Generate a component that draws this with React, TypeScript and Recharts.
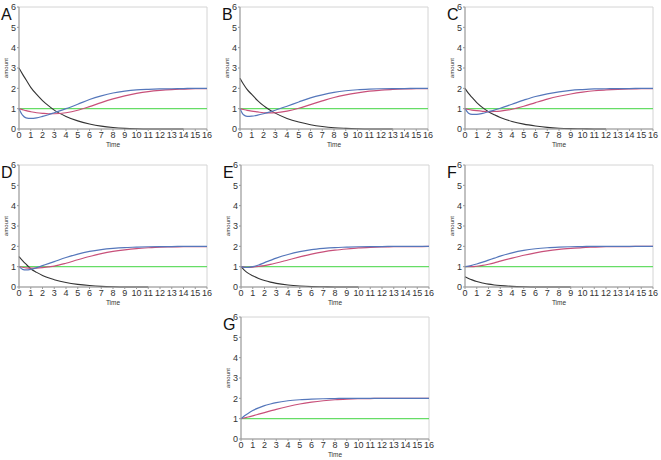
import React from "react";
import { LineChart, Line, XAxis, YAxis, ReferenceArea } from "recharts";

// sample times shared by every panel
const times = [0, 0.3, 0.6, 1, 1.5, 2, 2.5, 3, 4, 5, 6, 7, 8, 9, 10, 11, 12, 13, 14, 15, 16];
const xTicks = [0, 1, 2, 3, 4, 5, 6, 7, 8, 9, 10, 11, 12, 13, 14, 15, 16];
const yTicks = [0, 1, 2, 3, 4, 5, 6];

const greenLevel = [1, 1, 1, 1, 1, 1, 1, 1, 1, 1, 1, 1, 1, 1, 1, 1, 1, 1, 1, 1, 1];

const blackA = [3.0, 2.7, 2.42, 2.05, 1.7, 1.4, 1.15, 0.93, 0.62, 0.4, 0.25, 0.14, 0.07, 0.03, 0.01, 0, 0, 0, 0];
const blueA = [1.0, 0.68, 0.55, 0.52, 0.55, 0.62, 0.7, 0.8, 1.0, 1.22, 1.45, 1.63, 1.77, 1.86, 1.92, 1.95, 1.97, 1.98, 1.99, 2.0, 2.0];
const redA = [1.0, 0.95, 0.9, 0.85, 0.8, 0.77, 0.75, 0.75, 0.8, 0.92, 1.1, 1.3, 1.48, 1.63, 1.75, 1.84, 1.9, 1.94, 1.96, 1.98, 1.99];

const blackB = [2.5, 2.2, 1.95, 1.7, 1.4, 1.15, 0.95, 0.78, 0.52, 0.34, 0.21, 0.12, 0.06, 0.03, 0.01, 0, 0, 0];
const blueB = [1, 0.7, 0.62, 0.63, 0.68, 0.75, 0.83, 0.92, 1.12, 1.33, 1.53, 1.68, 1.8, 1.88, 1.93, 1.96, 1.98, 1.99, 1.99, 2, 2];
const redB = [1, 0.96, 0.92, 0.88, 0.84, 0.8, 0.79, 0.8, 0.88, 1.02, 1.2, 1.38, 1.55, 1.68, 1.78, 1.86, 1.91, 1.95, 1.97, 1.98, 1.99];

const blackC = [2.0, 1.75, 1.55, 1.3, 1.05, 0.85, 0.7, 0.57, 0.37, 0.24, 0.15, 0.08, 0.04, 0.02, 0.01, 0, 0];
const blueC = [1, 0.78, 0.72, 0.72, 0.77, 0.85, 0.93, 1.02, 1.22, 1.42, 1.6, 1.73, 1.83, 1.9, 1.94, 1.97, 1.98, 1.99, 1.99, 2, 2];
const redC = [1, 0.96, 0.93, 0.9, 0.87, 0.85, 0.86, 0.88, 0.97, 1.12, 1.3, 1.47, 1.61, 1.72, 1.81, 1.88, 1.92, 1.95, 1.97, 1.98, 1.99];

const blackD = [1.5, 1.3, 1.12, 0.9, 0.72, 0.57, 0.45, 0.36, 0.22, 0.13, 0.07, 0.03, 0.01, 0, 0, 0];
const blueD = [1, 0.87, 0.84, 0.87, 0.95, 1.05, 1.15, 1.25, 1.45, 1.62, 1.75, 1.84, 1.9, 1.94, 1.96, 1.98, 1.99, 1.99, 2, 2, 2];
const redD = [1, 0.97, 0.94, 0.93, 0.93, 0.95, 0.99, 1.03, 1.17, 1.34, 1.5, 1.64, 1.75, 1.83, 1.89, 1.93, 1.96, 1.97, 1.98, 1.99, 1.99];

const blackE = [1, 0.82, 0.68, 0.55, 0.42, 0.32, 0.24, 0.18, 0.1, 0.05, 0.02, 0.01, 0, 0, 0];
const blueE = [1, 0.97, 0.97, 1.0, 1.08, 1.2, 1.31, 1.42, 1.6, 1.74, 1.84, 1.9, 1.94, 1.96, 1.98, 1.99, 1.99, 2, 2, 2, 2];
const redE = [1, 0.98, 0.97, 0.98, 1.01, 1.05, 1.11, 1.18, 1.33, 1.48, 1.62, 1.73, 1.81, 1.87, 1.92, 1.95, 1.97, 1.98, 1.99, 1.99, 2];

const blackF = [0.5, 0.42, 0.35, 0.27, 0.2, 0.14, 0.1, 0.07, 0.03, 0.01, 0, 0, 0, 0];
const blueF = [1, 1.03, 1.07, 1.13, 1.22, 1.32, 1.42, 1.52, 1.68, 1.8, 1.88, 1.93, 1.96, 1.98, 1.99, 2, 2, 2, 2, 2, 2];
const redF = [1, 1.0, 1.0, 1.02, 1.06, 1.12, 1.19, 1.27, 1.42, 1.56, 1.68, 1.78, 1.85, 1.9, 1.94, 1.96, 1.98, 1.99, 1.99, 2, 2];

const blueG = [1, 1.14, 1.26, 1.4, 1.53, 1.64, 1.72, 1.79, 1.88, 1.93, 1.96, 1.98, 1.99, 2, 2, 2, 2, 2, 2, 2, 2];
const redG = [1, 1.04, 1.08, 1.14, 1.22, 1.3, 1.38, 1.46, 1.6, 1.72, 1.81, 1.88, 1.93, 1.96, 1.98, 1.99, 2, 2, 2, 2, 2];

const FONT = "'Liberation Sans', Arial, sans-serif";
const PLOT_W = 188;
const PLOT_H = 122;
const Y_W = 19;
const TOP_M = 6;
const X_H = 22;

type PanelDef = {
  id: string;
  plotLeft: number;
  plotTop: number;
  black?: number[];
  blue: number[];
  red: number[];
};

const panels: PanelDef[] = [
  { id: "A", plotLeft: 19, plotTop: 7, black: blackA, blue: blueA, red: redA },
  { id: "B", plotLeft: 240, plotTop: 7, black: blackB, blue: blueB, red: redB },
  { id: "C", plotLeft: 465, plotTop: 7, black: blackC, blue: blueC, red: redC },
  { id: "D", plotLeft: 19, plotTop: 165, black: blackD, blue: blueD, red: redD },
  { id: "E", plotLeft: 241, plotTop: 165, black: blackE, blue: blueE, red: redE },
  { id: "F", plotLeft: 465, plotTop: 165, black: blackF, blue: blueF, red: redF },
  { id: "G", plotLeft: 241, plotTop: 317, blue: blueG, red: redG },
];

function buildRows(p: PanelDef) {
  return times.map((t, i) => ({
    t,
    green: greenLevel[i],
    black: p.black && p.black[i] !== undefined ? p.black[i] : null,
    red: p.red[i],
    blue: p.blue[i],
  }));
}

const tickStyle = { fontSize: 9, fill: "#333", fontFamily: FONT };

function Panel({ p }: { p: PanelDef }) {
  const data = buildRows(p);
  const left = p.plotLeft - Y_W;
  const top = p.plotTop - TOP_M;
  return (
    <div style={{ position: "absolute", left, top }}>
      <LineChart
        width={Y_W + PLOT_W + 6}
        height={TOP_M + PLOT_H + X_H}
        data={data}
        margin={{ top: TOP_M, right: 6, left: 0, bottom: 0 }}
      >
        <XAxis
          dataKey="t"
          type="number"
          domain={[0, 16]}
          ticks={xTicks}
          interval={0}
          height={X_H}
          tick={tickStyle}
          tickSize={2}
          tickMargin={1}
          stroke="#999"
          label={{
            content: ({ viewBox }: any) => (
              <text
                x={viewBox.x + viewBox.width / 2}
                y={viewBox.y + 18}
                textAnchor="middle"
                fontSize={6.5}
                fontFamily={FONT}
                style={{ fill: "#333" }}
              >
                Time
              </text>
            ),
          }}
        />
        <YAxis
          type="number"
          domain={[0, 6]}
          ticks={yTicks}
          width={Y_W}
          tick={tickStyle}
          tickSize={2}
          tickMargin={1}
          stroke="#999"
          label={{
            content: ({ viewBox }: any) => {
              const cx = viewBox.x + 8;
              const cy = viewBox.y + viewBox.height / 2;
              return (
                <text
                  x={cx}
                  y={cy}
                  transform={`rotate(-90, ${cx}, ${cy})`}
                  textAnchor="middle"
                  fontSize={6}
                  fontFamily={FONT}
                  style={{ fill: "#333" }}
                >
                  amount
                </text>
              );
            },
          }}
        />
        <ReferenceArea x1={0} x2={16} y1={0} y2={6} fill="none" stroke="#d4d4d4" />
        <Line dataKey="green" type="monotone" stroke="#66dd66" strokeWidth={1.2} dot={false} isAnimationActive={false} />
        <Line dataKey="black" type="monotone" stroke="#333333" strokeWidth={1.1} dot={false} isAnimationActive={false} />
        <Line dataKey="red" type="monotone" stroke="#c8507a" strokeWidth={1.2} dot={false} isAnimationActive={false} />
        <Line dataKey="blue" type="monotone" stroke="#5577bb" strokeWidth={1.2} dot={false} isAnimationActive={false} />
      </LineChart>
      <div
        style={{
          position: "absolute",
          left: 1,
          top: 6,
          fontFamily: FONT,
          fontSize: 16,
          lineHeight: "16px",
          color: "#111",
        }}
      >
        {p.id}
      </div>
    </div>
  );
}

export default function App() {
  return (
    <div style={{ position: "absolute", left: 0, top: 0, width: 661, height: 460, background: "#fff" }}>
      {panels.map((p) => (
        <Panel key={p.id} p={p} />
      ))}
    </div>
  );
}
